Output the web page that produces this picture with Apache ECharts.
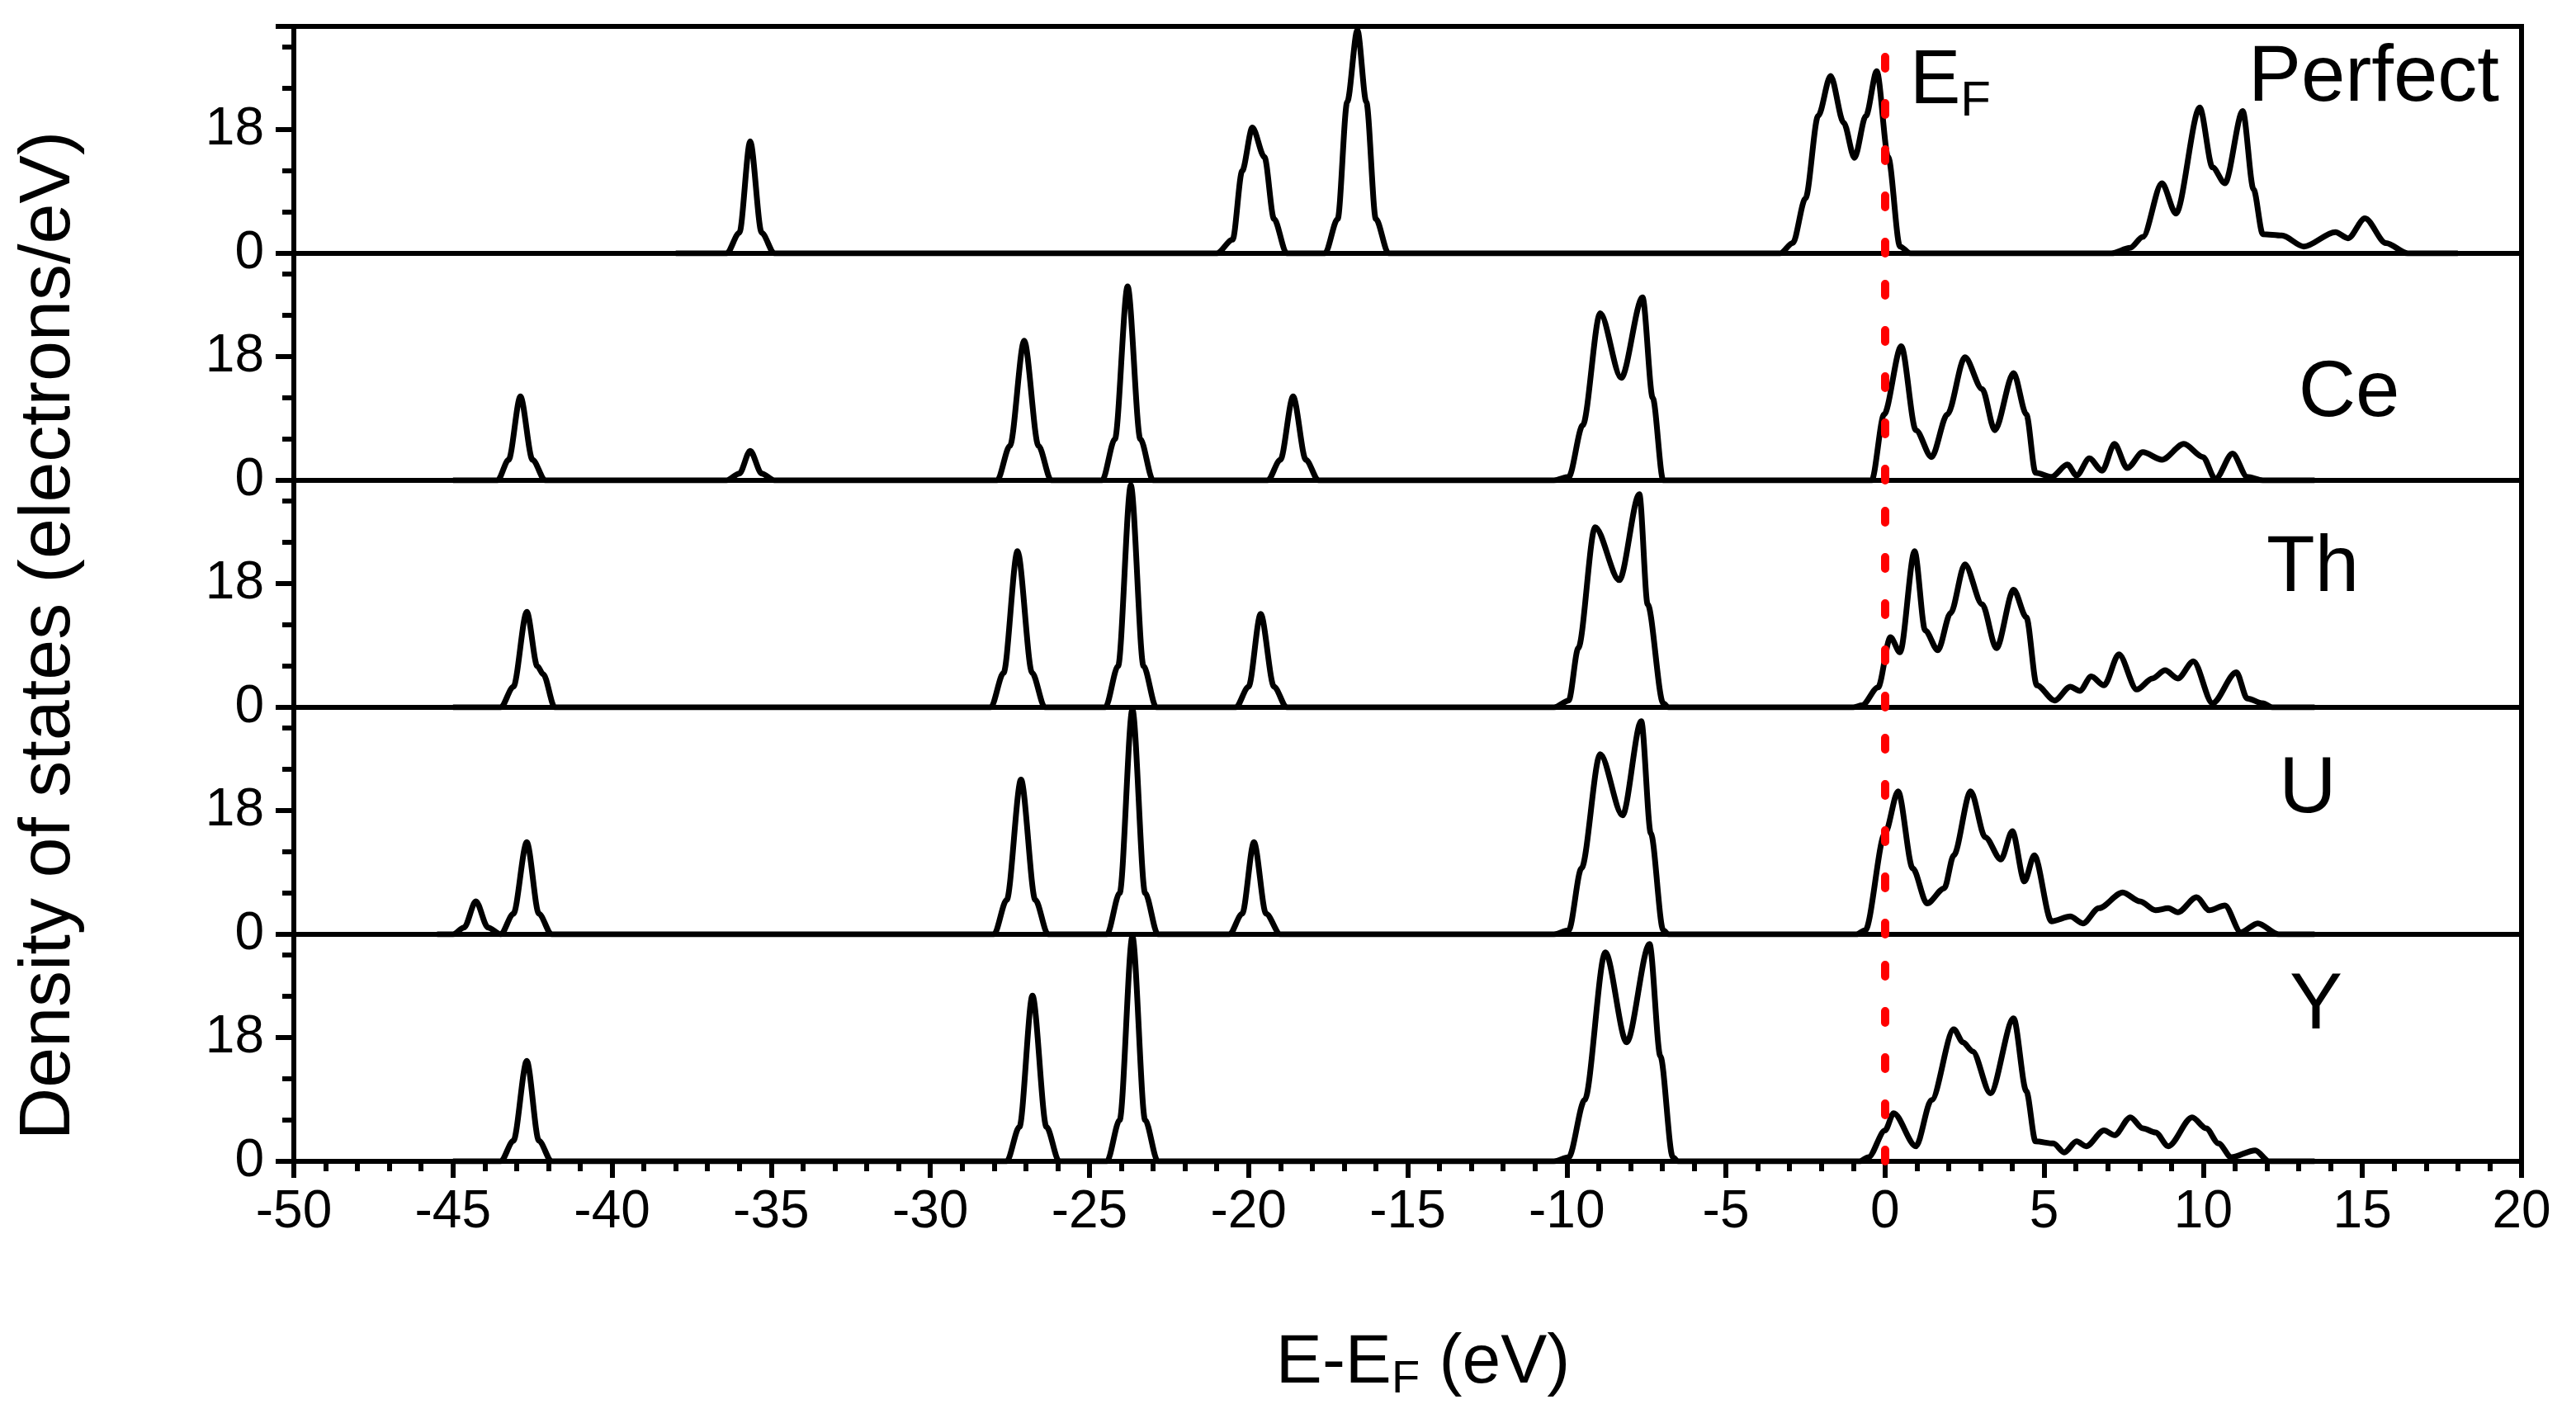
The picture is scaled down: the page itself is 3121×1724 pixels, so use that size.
<!DOCTYPE html>
<html><head><meta charset="utf-8">
<script src="https://cdn.jsdelivr.net/npm/echarts@6/dist/echarts.min.js"></script>
<style>html,body{margin:0;padding:0;background:#fff}#c{width:3121px;height:1724px}</style>
</head><body><div id="c"></div>
<script>
const panelNames = ['Perfect','Ce','Th','U','Y'];
const xTicks = [-50,-45,-40,-35,-30,-25,-20,-15,-10,-5,0,5,10,15,20];
const yTicks = [0,18];

const dosPerfect = [[-38,0],[-36.4,0],[-36.0,3],[-35.66,16.3],[-35.3,3],[-34.9,0],
 [-21.0,0],[-20.5,2],[-20.2,12],[-19.88,18.3],[-19.5,14],[-19.2,5],[-18.8,0],
 [-17.6,0],[-17.2,5],[-16.9,22],[-16.58,32.5],[-16.3,22],[-16.0,5],[-15.6,0],
 [-3.3,0],[-2.9,1.5],[-2.5,8],[-2.1,20],[-1.71,25.8],[-1.3,19],[-0.96,13.9],[-0.6,20],[-0.26,26.5],[0.1,14],[0.47,1],[0.8,0],
 [7.11,0],[7.7,0.8],[8.10,2.4],[8.70,10.2],[9.14,5.8],[9.89,21.2],[10.29,12.5],[10.68,10.2],[11.24,20.7],[11.58,9.3],[11.87,2.8],[12.47,2.6],[13.16,1.0],[14.15,3.1],[14.55,2.2],[15.08,5.1],[15.74,1.5],[16.43,0],[18,0]];

const dosCe = [[-45,0],[-43.6,0],[-43.25,3],[-42.88,12.2],[-42.5,3],[-42.1,0],
 [-36.4,0],[-36.0,1],[-35.66,4.3],[-35.3,1],[-34.9,0],
 [-27.9,0],[-27.5,5],[-27.05,20.3],[-26.6,5],[-26.2,0],
 [-24.6,0],[-24.2,6],[-23.8,28.2],[-23.4,6],[-23.0,0],
 [-19.4,0],[-19.0,3],[-18.6,12.2],[-18.2,3],[-17.8,0],
 [-10.4,0],[-9.94,0.5],[-9.5,8],[-8.95,24.3],[-8.29,14.9],[-7.62,26.6],[-7.3,12],[-6.97,0],
 [-0.42,0],[-0.03,9.6],[0.51,19.5],[0.97,7.3],[1.46,3.4],[1.96,9.6],[2.51,17.9],[3.05,13.3],[3.45,7.3],[4.04,15.6],[4.44,9.6],[4.73,1.1],[5.23,0.5],[5.73,2.3],[6.02,0.7],[6.42,3.2],[6.82,1.4],[7.21,5.3],[7.61,1.8],[8.10,4.1],[8.70,3.0],[9.39,5.3],[9.99,3.4],[10.38,0.2],[10.92,3.9],[11.38,0.5],[11.87,0],[13.5,0]];

const dosTh = [[-45,0],[-43.5,0],[-43.1,3],[-42.68,13.9],[-42.35,6],[-42.16,4.8],[-41.8,0],
 [-28.1,0],[-27.7,5],[-27.26,22.7],[-26.8,5],[-26.4,0],
 [-24.5,0],[-24.1,6],[-23.70,32.3],[-23.3,6],[-22.9,0],
 [-20.4,0],[-20.0,3],[-19.62,13.6],[-19.2,3],[-18.8,0],
 [-10.4,0],[-9.94,1.0],[-9.64,8.6],[-9.11,26.2],[-8.35,18.5],[-7.72,31.0],[-7.46,15.0],[-6.97,0.6],[-6.8,0],
 [-1.0,0],[-0.72,0.3],[-0.22,2.9],[0.17,10.2],[0.47,8.0],[0.93,22.7],[1.26,11.2],[1.66,8.3],[2.06,13.7],[2.51,20.8],[3.05,15.0],[3.50,8.6],[4.04,17.1],[4.44,13.1],[4.77,3.2],[5.33,1.0],[5.82,3.0],[6.12,2.4],[6.48,4.5],[6.88,3.2],[7.35,7.7],[7.91,2.6],[8.40,4.2],[8.80,5.4],[9.20,4.2],[9.69,6.7],[10.29,0.6],[11.04,5.1],[11.38,1.3],[11.87,0.6],[12.17,0],[13.5,0]];

const dosU = [[-45.5,0],[-45.0,0],[-44.65,1],[-44.28,4.8],[-43.9,1],[-43.5,0],[-43.1,3],[-42.68,13.4],[-42.3,3],[-41.9,0],
 [-28.0,0],[-27.6,5],[-27.15,22.5],[-26.7,5],[-26.3,0],
 [-24.45,0],[-24.05,6],[-23.65,32.7],[-23.25,6],[-22.85,0],
 [-20.6,0],[-20.2,3],[-19.83,13.4],[-19.45,3],[-19.0,0],
 [-10.4,0],[-9.94,0.6],[-9.54,9.6],[-8.95,26.2],[-8.25,17.3],[-7.66,31.0],[-7.36,14.7],[-6.97,0.6],[-6.8,0],
 [-0.9,0],[-0.62,0.6],[0.0,14.7],[0.41,20.8],[0.87,9.6],[1.32,4.5],[1.86,6.7],[2.16,11.5],[2.69,20.8],[3.15,14.1],[3.64,10.9],[4.00,15.0],[4.38,7.7],[4.69,11.5],[5.23,1.9],[5.82,2.6],[6.22,1.6],[6.72,3.8],[7.47,6.1],[8.01,4.8],[8.50,3.5],[8.90,3.8],[9.20,3.2],[9.79,5.4],[10.19,3.5],[10.68,4.2],[11.18,0.3],[11.71,1.6],[12.37,0],[13.5,0]];

const dosY = [[-45,0],[-43.5,0],[-43.1,3],[-42.68,14.6],[-42.3,3],[-41.9,0],
 [-27.6,0],[-27.2,5],[-26.79,24.1],[-26.35,5],[-25.95,0],
 [-24.45,0],[-24.05,6],[-23.65,32.7],[-23.25,6],[-22.85,0],
 [-10.4,0],[-9.94,0.6],[-9.44,8.9],[-8.79,30.4],[-8.12,17.3],[-7.40,31.6],[-7.06,15.3],[-6.67,0.6],[-6.5,0],
 [-0.8,0],[-0.52,0.6],[0.0,4.5],[0.27,7.0],[0.97,2.2],[1.46,8.9],[2.16,19.2],[2.45,17.3],[2.75,16.0],[3.31,9.9],[4.04,20.8],[4.44,10.2],[4.73,2.9],[5.29,2.6],[5.63,1.3],[6.02,2.9],[6.32,2.2],[6.88,4.5],[7.21,3.8],[7.71,6.4],[8.10,4.8],[8.50,4.2],[8.90,2.2],[9.65,6.4],[10.09,4.8],[10.48,2.6],[10.88,0.6],[11.63,1.6],[12.07,0],[13.5,0]];

const allDos = [dosPerfect, dosCe, dosTh, dosU, dosY];
const font = 'Liberation Sans, Arial, sans-serif';
const L = 356, R = 66, T0 = 32, H = 275;
const grids = [], xAxes = [], yAxes = [], series = [];
for (let i = 0; i < 5; i++) {
  const last = i === 4;
  grids.push({left: L, right: R, top: T0 + i*H, height: H, show: true, borderColor: '#000', borderWidth: 6, backgroundColor: 'transparent'});
  xAxes.push({type: 'value', gridIndex: i, min: -50, max: 20, interval: 5,
    axisLine: {show: true, onZero: false, lineStyle: {color: '#000', width: 6}},
    axisTick: {show: last, length: 20, lineStyle: {color: '#000', width: 6}},
    minorTick: {show: last, splitNumber: 5, length: 12, lineStyle: {color: '#000', width: 6}},
    axisLabel: {show: last, margin: 30, fontSize: 64, color: '#000', fontFamily: font,
      formatter: v => xTicks.includes(v) ? String(v) : ''},
    splitLine: {show: false}});
  yAxes.push({type: 'value', gridIndex: i, min: 0, max: 33, interval: 18,
    axisLine: {show: true, onZero: false, lineStyle: {color: '#000', width: 6}},
    axisTick: {show: true, length: 22, lineStyle: {color: '#000', width: 6}},
    minorTick: {show: true, splitNumber: 3, length: 14, lineStyle: {color: '#000', width: 6}},
    axisLabel: {margin: 36, fontSize: 64, color: '#000', fontFamily: font,
      formatter: v => yTicks.includes(v) ? String(v) : ''},
    splitLine: {show: false}});
  series.push({type: 'line', xAxisIndex: i, yAxisIndex: i, data: allDos[i], showSymbol: false,
    smooth: 0.3, smoothMonotone: 'x', lineStyle: {color: '#000', width: 7}, z: 3,
    markLine: {silent: true, symbol: 'none', label: {show: false},
      lineStyle: {color: '#ff0000', width: 10, type: [14, 42], cap: 'round'},
      data: [{xAxis: 0}]}});
}
const chart = echarts.init(document.getElementById('c'), null, {renderer: 'canvas'});
const txt = (x, y, s, size, align) => ({type: 'text', x, y,
  style: {text: s, font: size + 'px ' + font, fill: '#000', textAlign: align || 'center', textVerticalAlign: 'middle'}});
chart.setOption({
  animation: false, backgroundColor: '#fff',
  grid: grids, xAxis: xAxes, yAxis: yAxes, series,
  graphic: [
    txt(3028, 96, panelNames[0], 96, 'right'),
    txt(2846, 478, panelNames[1], 96),
    txt(2802, 690, panelNames[2], 96),
    txt(2796, 958, panelNames[3], 96),
    txt(2806, 1220, panelNames[4], 96),
    {type: 'text', x: 2314, y: 100, style: {text: '{a|E}{b|F}', textVerticalAlign: 'middle',
      rich: {a: {font: '92px ' + font, fill: '#000'}, b: {font: '60px ' + font, fill: '#000', padding: [46,0,0,0]}}}},
    {type: 'text', x: 1724, y: 1652, style: {text: '{a|E-E}{b|F}{a| (eV)}', textAlign: 'center', textVerticalAlign: 'middle',
      rich: {a: {font: '84px ' + font, fill: '#000'}, b: {font: '56px ' + font, fill: '#000', padding: [40,0,0,0]}}}},
    {type: 'text', x: 60, y: 770, rotation: Math.PI/2, style: {text: 'Density of states (electrons/eV)', font: '88px ' + font, fill: '#000', textAlign: 'center', textVerticalAlign: 'middle'}}
  ]
});
</script></body></html>
